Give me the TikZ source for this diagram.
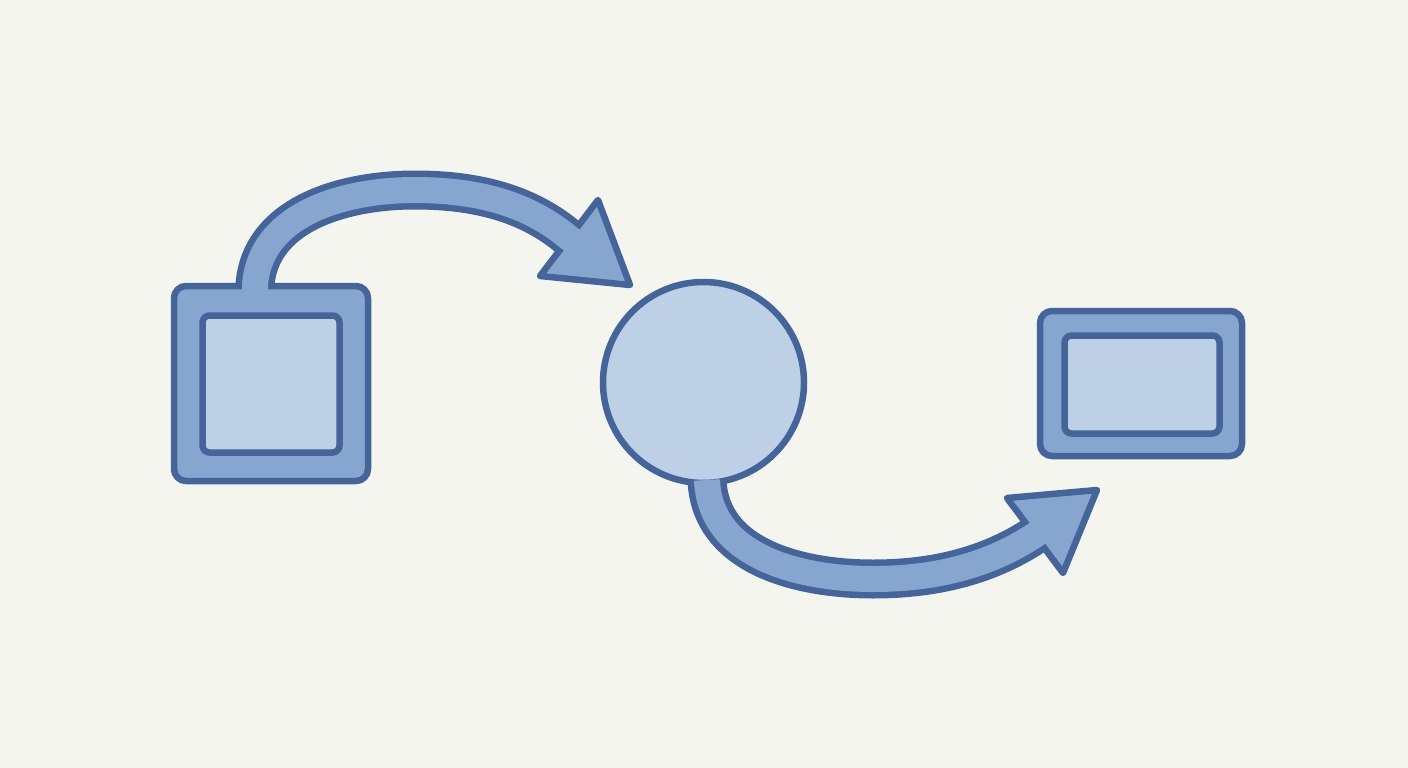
\documentclass[tikz,border=0pt]{standalone}
\begin{document}
\begin{tikzpicture}[x=1pt,y=-1pt,
  line join=round,
  outerbox/.style={draw=dk, fill=md, line width=6.5pt, rounded corners=12pt, inner sep=0pt, outer sep=0pt},
  innerbox/.style={draw=dk, fill=lt, line width=6.5pt, rounded corners=7pt, inner sep=0pt, outer sep=0pt},
  bandedge/.style={draw=dk, line width=39pt},
  bandfill/.style={draw=md, line width=26pt},
  headstyle/.style={draw=dk, fill=md, line width=6.5pt, line join=round}]
\definecolor{bg}{HTML}{F5F5F0}
\definecolor{dk}{HTML}{45659A}
\definecolor{md}{HTML}{87A6CF}
\definecolor{lt}{HTML}{BDD0E6}
\fill[bg] (0,0) rectangle (1408,768);
\useasboundingbox (0,0) rectangle (1408,768);
% coordinates
\coordinate (a1s) at (255,300);
\coordinate (a1f) at (255,290);
\coordinate (a1e) at (569,238);
\coordinate (a1x) at (573,241);
\coordinate (h1a) at (598,200);
\coordinate (h1t) at (630,285);
\coordinate (h1b) at (540,276);
\coordinate (a2s) at (707,470);
\coordinate (a2f) at (707,480);
\coordinate (a2e) at (1035,535);
\coordinate (a2x) at (1039,532);
\coordinate (h2a) at (1007,498);
\coordinate (h2t) at (1097,490);
\coordinate (h2b) at (1063,573);
% band outlines
\draw[bandedge] (a1s) -- (255,285) .. controls (260,216) and (340,190) .. (415,190) .. controls (480,190) and (530,205) .. (a1e);
\draw[bandedge] (a2s) -- (707,480) .. controls (710,557) and (800,579) .. (873,579) .. controls (950,579) and (1000,558) .. (a2e);
% shapes
\node[outerbox, minimum width=194pt, minimum height=195pt] (sq) at (271,383.5) {};
\node[innerbox, minimum width=137pt, minimum height=137pt] (sqi) at (271,384) {};
\node[circle, draw=dk, fill=lt, line width=6.5pt, minimum size=201pt, inner sep=0pt, outer sep=0pt] (ci) at (703.5,382.5) {};
\node[outerbox, minimum width=202pt, minimum height=145pt] (rr) at (1141,383.5) {};
\node[innerbox, minimum width=155pt, minimum height=98pt] (rri) at (1142,384.5) {};
% heads
\draw[headstyle] (h1a) -- (h1t) -- (h1b) -- cycle;
\draw[headstyle] (h2a) -- (h2t) -- (h2b) -- cycle;
% band fills
\draw[bandfill] (a1f) -- (255,285) .. controls (260,216) and (340,190) .. (415,190) .. controls (480,190) and (530,205) .. (a1e) -- (a1x);
\draw[bandfill] (a2f) .. controls (710,557) and (800,579) .. (873,579) .. controls (950,579) and (1000,558) .. (a2e) -- (a2x);
\end{tikzpicture}
\end{document}
